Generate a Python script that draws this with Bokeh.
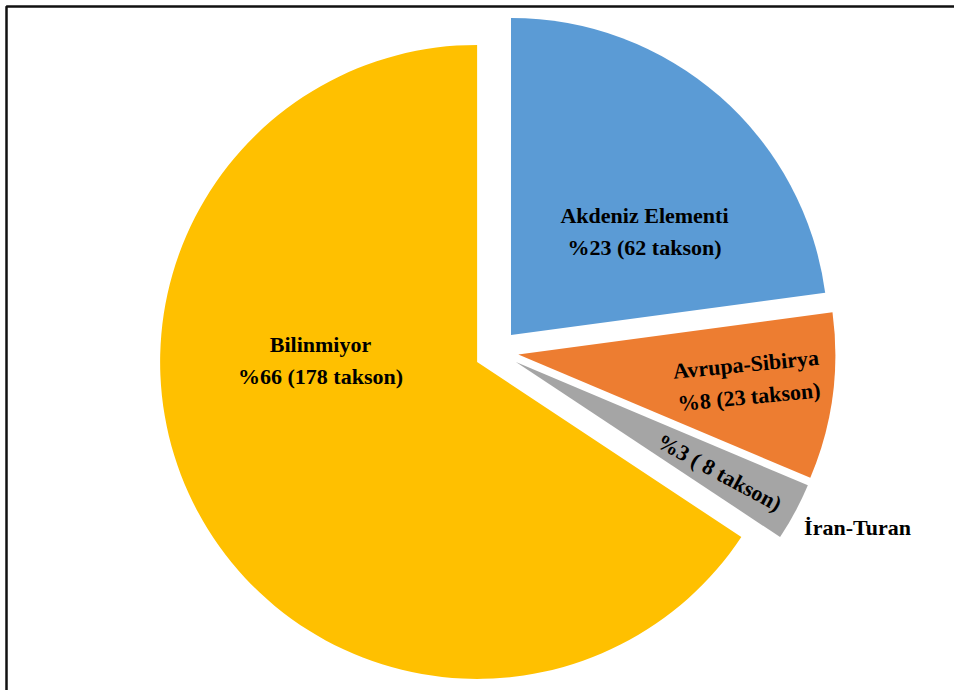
import math
from bokeh.plotting import figure
from bokeh.models import Range1d, ColumnDataSource
from bokeh.core.properties import value
from bokeh.embed import file_html
from bokeh.resources import INLINE

# ---- data ----
categories = ["Akdeniz Elementi", "Avrupa-Sibirya", "İran-Turan", "Bilinmiyor"]
taxa = [62, 23, 8, 178]
percent_labels = ["%23 (62 takson)", "%8 (23 takson)", "%3 ( 8 takson)", "%66 (178 takson)"]
colors = ["#5B9BD5", "#ED7D31", "#A5A5A5", "#FFC000"]

# ---- layout (pixels of the 954x690 canvas, y measured from top) ----
W, H = 954, 690
CX, CY = 496, 351          # pie centre
R = 317                    # radius
EXPLODE = 22               # explosion distance

total = sum(taxa)
xs, ys, starts, ends = [], [], [], []
cum = 0.0
for v in taxa:
    t1 = cum / total * 360.0
    cum += v
    t2 = cum / total * 360.0
    tm = math.radians((t1 + t2) / 2.0)
    xs.append(CX + EXPLODE * math.sin(tm))
    ys.append((H - CY) + EXPLODE * math.cos(tm))
    starts.append(math.radians(90.0 - t2))
    ends.append(math.radians(90.0 - t1))

src = ColumnDataSource(dict(x=xs, y=ys, start=starts, end=ends, color=colors, cat=categories))

p = figure(width=W, height=H, x_range=Range1d(0, W), y_range=Range1d(0, H),
           output_backend="svg", toolbar_location=None, min_border=0)
p.axis.visible = False
p.grid.visible = False
p.outline_line_color = None
p.background_fill_color = "white"
p.border_fill_color = "white"

p.wedge(x="x", y="y", radius=R, start_angle="start", end_angle="end",
        fill_color="color", line_color=None, source=src)

# frame (only top and left edges are visible in the reference)
p.line([6, 6, W + 20], [-20, H - 6, H - 6], line_color="#111111", line_width=2.5)

FONT = value("Liberation Serif")

# in-slice labels
in_text = [
    categories[0] + "\n" + percent_labels[0],
    categories[1] + "\n" + percent_labels[1],
    percent_labels[2],
    categories[3] + "\n" + percent_labels[3],
]
label_xy = [(644, 231), (747, 380), (719, 472), (320, 360)]   # screen px
label_angle_deg = [0, 5.5, -28.5, 0]

lsrc = ColumnDataSource(dict(
    x=[a for a, b in label_xy],
    y=[H - b for a, b in label_xy],
    text=in_text,
    angle=[math.radians(a) for a in label_angle_deg],
))
p.text(x="x", y="y", text="text", angle="angle", source=lsrc,
       text_font=FONT, text_font_style="bold", text_font_size="22px",
       text_align="center", text_baseline="middle", text_color="black",
       text_line_height=1.3)

# outside label for the small slice
p.text(x=[857], y=[H - 527], text=[categories[2]],
       text_font=FONT, text_font_style="bold", text_font_size="22px",
       text_align="center", text_baseline="middle", text_color="black")

open("out.html", "w").write(file_html(p, INLINE))
